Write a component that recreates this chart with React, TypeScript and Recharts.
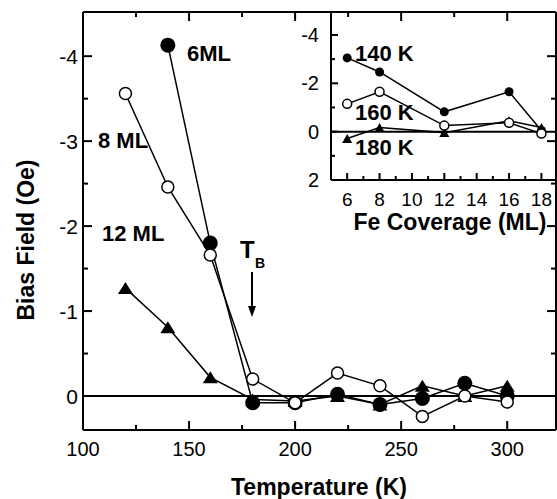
import { LineChart, Line, XAxis, YAxis, ReferenceLine } from "recharts";

// main panel: bias field vs temperature
const temperatures = [120, 140, 160, 180, 200, 220, 240, 260, 280, 300];
const bias6ML = [null, -4.13, -1.8, 0.08, 0.08, -0.02, 0.1, 0.03, -0.15, 0.0];
const bias8ML = [-3.56, -2.46, -1.66, -0.2, 0.08, -0.27, -0.12, 0.24, 0.0, 0.07];
const bias12ML = [-1.27, -0.81, -0.22, 0.04, 0.06, 0.0, 0.1, -0.12, 0.0, -0.12];

// inset: bias field vs Fe coverage
const coverages = [6, 8, 12, 16, 18];
const bias140K = [-3.05, -2.47, -0.82, -1.65, -0.05];
const bias160K = [-1.15, -1.65, -0.25, -0.37, 0.08];
const bias180K = [0.28, -0.17, 0.04, -0.45, -0.17];

const tempTicks = [100, 125, 150, 175, 200, 225, 250, 275, 300];
const tempLabels = [100, 150, 200, 250, 300];
const fieldTicks = [-4, -3.5, -3, -2.5, -2, -1.5, -1, -0.5, 0];
const fieldLabels = [-4, -3, -2, -1, 0];
const coverageTicks = [6, 7, 8, 9, 10, 11, 12, 13, 14, 15, 16, 17, 18];
const coverageLabels = [6, 8, 10, 12, 14, 16, 18];
const insetFieldTicks = [-4, -3, -2, -1, 0, 1, 2];
const insetFieldLabels = [-4, -2, 0, 2];

const FONT = "'Liberation Sans', Arial, sans-serif";

const mainData = temperatures.map((t, i) => ({
  t,
  ml6: bias6ML[i],
  ml8: bias8ML[i],
  ml12: bias12ML[i],
}));

const insetData = coverages.map((c, i) => ({
  c,
  k140: bias140K[i],
  k160: bias160K[i],
  k180: bias180K[i],
}));

type Side = "left" | "bottom" | "top" | "right";

// ticks drawn pointing into the plot, labels only on the major ones
function inwardTick(side: Side, labels: number[], majorLen: number, minorLen: number, fontSize: number, gap: number) {
  return (props: any) => {
    const x = Number(props.x);
    const y = Number(props.y);
    const v = props.payload.value;
    const major = labels.includes(v);
    const len = major ? majorLen : minorLen;
    if (side === "left") {
      return (
        <g>
          <line x1={x} y1={y} x2={x + len} y2={y} stroke="#000" strokeWidth={2} />
          {major && (
            <text x={x - gap} y={y} textAnchor="end" dominantBaseline="central" fontSize={fontSize} fontFamily={FONT} fill="#000">
              {v}
            </text>
          )}
        </g>
      );
    }
    if (side === "bottom") {
      return (
        <g>
          <line x1={x} y1={y} x2={x} y2={y - len} stroke="#000" strokeWidth={2} />
          {major && (
            <text x={x} y={y + gap} dy="0.72em" textAnchor="middle" fontSize={fontSize} fontFamily={FONT} fill="#000">
              {v}
            </text>
          )}
        </g>
      );
    }
    if (side === "top") {
      return (
        <g>
          <line x1={x} y1={y} x2={x} y2={y + len} stroke="#000" strokeWidth={2} />
        </g>
      );
    }
    return (
      <g>
        <line x1={x} y1={y} x2={x - len} y2={y} stroke="#000" strokeWidth={2} />
      </g>
    );
  };
}

function filledCircle(r: number) {
  return (props: any) => {
    const { cx, cy, index } = props;
    if (cy == null || cx == null) return <g key={`fc-${index}`} />;
    return <circle key={`fc-${index}`} cx={cx} cy={cy} r={r} fill="#000" />;
  };
}

function openCircle(r: number) {
  return (props: any) => {
    const { cx, cy, index } = props;
    if (cy == null || cx == null) return <g key={`oc-${index}`} />;
    return <circle key={`oc-${index}`} cx={cx} cy={cy} r={r} fill="#fff" stroke="#000" strokeWidth={1.5} />;
  };
}

function triangle(w: number, h: number) {
  return (props: any) => {
    const { cx, cy, index } = props;
    if (cy == null || cx == null) return <g key={`tr-${index}`} />;
    const pts = `${cx},${cy - h / 2} ${cx + w / 2},${cy + h / 2} ${cx - w / 2},${cy + h / 2}`;
    return <polygon key={`tr-${index}`} points={pts} fill="#000" />;
  };
}

const axisLine = { stroke: "#000", strokeWidth: 2 };

function MainChart() {
  return (
    <LineChart width={557} height={499} data={mainData} margin={{ top: 11, right: 0, left: 0, bottom: 0 }}>
      <XAxis
        dataKey="t"
        type="number"
        domain={[100, 323]}
        allowDataOverflow
        ticks={tempTicks}
        interval={0}
        tickSize={0}
        tickMargin={0}
        tickLine={false}
        axisLine={axisLine}
        height={69}
        tick={inwardTick("bottom", tempLabels, 9, 5, 20, 12)}
      />
      <XAxis
        xAxisId="top"
        dataKey="t"
        orientation="top"
        type="number"
        domain={[100, 323]}
        allowDataOverflow
        ticks={tempTicks}
        interval={0}
        tickSize={0}
        tickMargin={0}
        tickLine={false}
        axisLine={axisLine}
        height={1}
        tick={inwardTick("top", tempLabels, 9, 5, 20, 0)}
      />
      <YAxis
        type="number"
        domain={[-4.52, 0.4]}
        reversed
        allowDataOverflow
        ticks={fieldTicks}
        interval={0}
        tickSize={0}
        tickMargin={0}
        tickLine={false}
        axisLine={axisLine}
        width={83}
        tick={inwardTick("left", fieldLabels, 9, 5, 21, 5)}
      />
      <YAxis
        yAxisId="right"
        orientation="right"
        type="number"
        domain={[-4.52, 0.4]}
        reversed
        allowDataOverflow
        ticks={fieldTicks}
        interval={0}
        tickSize={0}
        tickMargin={0}
        tickLine={false}
        axisLine={axisLine}
        width={1}
        tick={inwardTick("right", fieldLabels, 9, 5, 20, 0)}
      />
      <ReferenceLine y={0} stroke="#000" strokeWidth={2} />
      {/* invisible copy so the mirrored frame axes get a data domain */}
      <Line xAxisId="top" yAxisId="right" dataKey="ml8" stroke="none" dot={false} isAnimationActive={false} />
      <Line dataKey="ml12" stroke="#000" strokeWidth={1.5} dot={triangle(15, 12)} isAnimationActive={false} />
      <Line dataKey="ml6" stroke="#000" strokeWidth={1.5} dot={filledCircle(7.5)} isAnimationActive={false} />
      <Line dataKey="ml8" stroke="#000" strokeWidth={1.5} dot={openCircle(6)} isAnimationActive={false} />
    </LineChart>
  );
}

function InsetChart() {
  return (
    <LineChart width={276} height={240} data={insetData} margin={{ top: 12, right: 1, left: 0, bottom: 0 }}>
      <XAxis
        dataKey="c"
        type="number"
        domain={[5, 18.9]}
        allowDataOverflow
        ticks={coverageTicks}
        interval={0}
        tickSize={0}
        tickMargin={0}
        tickLine={false}
        axisLine={axisLine}
        height={60}
        tick={inwardTick("bottom", coverageLabels, 7, 4, 19, 12)}
      />
      <YAxis
        type="number"
        domain={[-4.95, 2]}
        reversed
        allowDataOverflow
        ticks={insetFieldTicks}
        interval={0}
        tickSize={0}
        tickMargin={0}
        tickLine={false}
        axisLine={axisLine}
        width={50}
        tick={inwardTick("left", insetFieldLabels, 7, 4, 20, 12)}
      />
      <ReferenceLine y={0} stroke="#000" strokeWidth={2} />
      <Line dataKey="k180" stroke="#000" strokeWidth={1.5} dot={triangle(10, 9)} isAnimationActive={false} />
      <Line dataKey="k140" stroke="#000" strokeWidth={1.5} dot={filledCircle(4.5)} isAnimationActive={false} />
      <Line dataKey="k160" stroke="#000" strokeWidth={1.5} dot={openCircle(4.5)} isAnimationActive={false} />
    </LineChart>
  );
}

function Annotations() {
  const bold = { fontFamily: FONT, fontWeight: 700, fill: "#000" } as const;
  return (
    <svg width={557} height={499} style={{ position: "absolute", left: 0, top: 0, pointerEvents: "none" }}>
      <text x={34} y={240} transform="rotate(-90 34 240)" textAnchor="middle" fontSize={23} {...bold}>
        Bias Field (Oe)
      </text>
      <text x={319} y={495} textAnchor="middle" fontSize={23} {...bold}>
        Temperature (K)
      </text>
      <text x={187} y={61} fontSize={22} {...bold}>6ML</text>
      <text x={98} y={148} fontSize={22} {...bold}>8 ML</text>
      <text x={102} y={241} fontSize={22} {...bold}>12 ML</text>
      <text x={240} y={258} fontSize={24} {...bold}>T</text>
      <text x={255} y={268} fontSize={14} {...bold}>B</text>
      <line x1={252} y1={272} x2={252} y2={308} stroke="#000" strokeWidth={2} />
      <polygon points="248,306 256,306 252,317" fill="#000" />
      <text x={355} y={61} fontSize={22} {...bold}>140 K</text>
      <text x={355} y={120} fontSize={22} {...bold}>160 K</text>
      <text x={355} y={155} fontSize={22} {...bold}>180 K</text>
      <text x={450} y={230} textAnchor="middle" fontSize={23} {...bold}>
        Fe Coverage (ML)
      </text>
    </svg>
  );
}

export default function App() {
  return (
    <div style={{ position: "absolute", left: 0, top: 0, width: 557, height: 499, background: "#fff" }}>
      <div style={{ position: "absolute", left: 0, top: 0 }}>
        <MainChart />
      </div>
      <div style={{ position: "absolute", left: 281, top: 0 }}>
        <InsetChart />
      </div>
      <Annotations />
    </div>
  );
}
